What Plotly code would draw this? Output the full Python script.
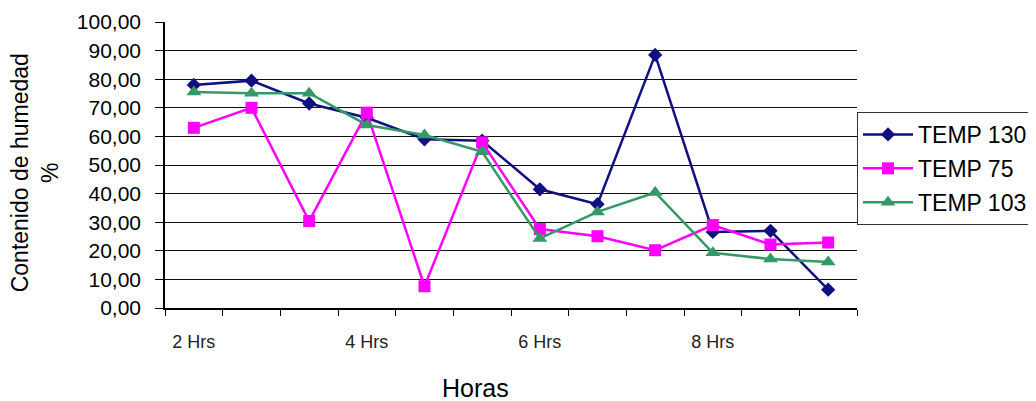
import plotly.graph_objects as go

# ---- data ----
categories = ["2 Hrs", "", "", "4 Hrs", "", "", "6 Hrs", "", "", "8 Hrs", "", ""]
temp130 = [78.0, 79.5, 71.5, 66.5, 59.0, 58.5, 41.5, 36.3, 88.5, 26.6, 27.0, 6.4]
temp75 = [63.0, 70.0, 30.4, 68.3, 7.6, 57.9, 27.6, 25.1, 20.2, 29.0, 22.2, 22.9]
temp103 = [75.5, 75.1, 75.1, 64.0, 60.5, 54.6, 24.3, 33.6, 40.4, 19.3, 17.1, 16.1]
series_names = ["TEMP 130", "TEMP 75", "TEMP 103"]
y_title = "Contenido de humedad<br>%"
x_title = "Horas"

x = list(range(len(categories)))
tickvals = [i for i, c in enumerate(categories) if c]
ticktext = [c for c in categories if c]
boundaries = [i - 0.5 for i in range(len(categories) + 1)]

FONT = "Liberation Sans, Arial, sans-serif"

# page body adds an 8px offset; figure is sized to fit the window
W, H = 1028, 393
PL, PR, PT, PB = 157, 179, 14, 93
plot_w = W - PL - PR
plot_h = H - PT - PB

fig = go.Figure()
styles = [
    dict(color="#101080", symbol="diamond", size=11),
    dict(color="#FF00FF", symbol="square", size=12),
    dict(color="#339966", symbol="triangle-up", size=13),
]
for name, vals, st, grp in zip(series_names, [temp130, temp75, temp103], styles, ["a", "b", "c"]):
    fig.add_trace(go.Scatter(
        x=x, y=vals, name=name, mode="lines+markers", legendgroup=grp,
        line=dict(color=st["color"], width=2.5),
        marker=dict(color=st["color"], symbol=st["symbol"], size=st["size"],
                    line=dict(width=0)),
    ))

fig.update_layout(
    width=W, height=H,
    margin=dict(l=PL, r=PR, t=PT, b=PB, autoexpand=False),
    paper_bgcolor="white", plot_bgcolor="white",
    separators=",.",
    font=dict(family=FONT, color="black"),
    showlegend=True,
    legend=dict(
        x=1.0, xanchor="left", y=1 - (104 - PT) / plot_h, yanchor="top",
        bgcolor="white", bordercolor="#333333", borderwidth=1,
        font=dict(size=23, family=FONT, color="black"),
        traceorder="grouped", tracegroupgap=1, itemwidth=50,
    ),
    xaxis=dict(
        range=[-0.5, len(categories) - 0.5],
        tickmode="array", tickvals=tickvals, ticktext=ticktext,
        ticks="", showgrid=False, zeroline=False,
        showline=True, linecolor="black", linewidth=1.5,
        tickfont=dict(size=18, family=FONT, color="#222222"),
        ticklabelstandoff=17,
        minor=dict(tickmode="array", tickvals=boundaries, ticks="outside",
                   ticklen=6, tickwidth=1.2, tickcolor="black", showgrid=False),
    ),
    yaxis=dict(
        range=[0, 100], dtick=10, tick0=0, tickformat=".2f",
        ticks="outside", ticklen=8, tickwidth=1.2, tickcolor="black",
        showgrid=True, gridcolor="#111111", gridwidth=1.2,
        zeroline=False, showline=True, linecolor="black", linewidth=1.5,
        tickfont=dict(size=21, family=FONT, color="black"),
        ticklabelstandoff=10,
    ),
    annotations=[
        dict(text=y_title, textangle=-90, xref="paper", yref="paper",
             x=(27 - PL) / plot_w, y=0.471, xanchor="center", yanchor="middle",
             showarrow=False, font=dict(size=23, family=FONT, color="black")),
        dict(text=x_title, xref="paper", yref="paper",
             x=(467 - PL) / plot_w, y=-80 / plot_h, xanchor="center", yanchor="middle",
             showarrow=False, font=dict(size=25, family=FONT, color="black")),
    ],
)

fig.write_html("out.html")
